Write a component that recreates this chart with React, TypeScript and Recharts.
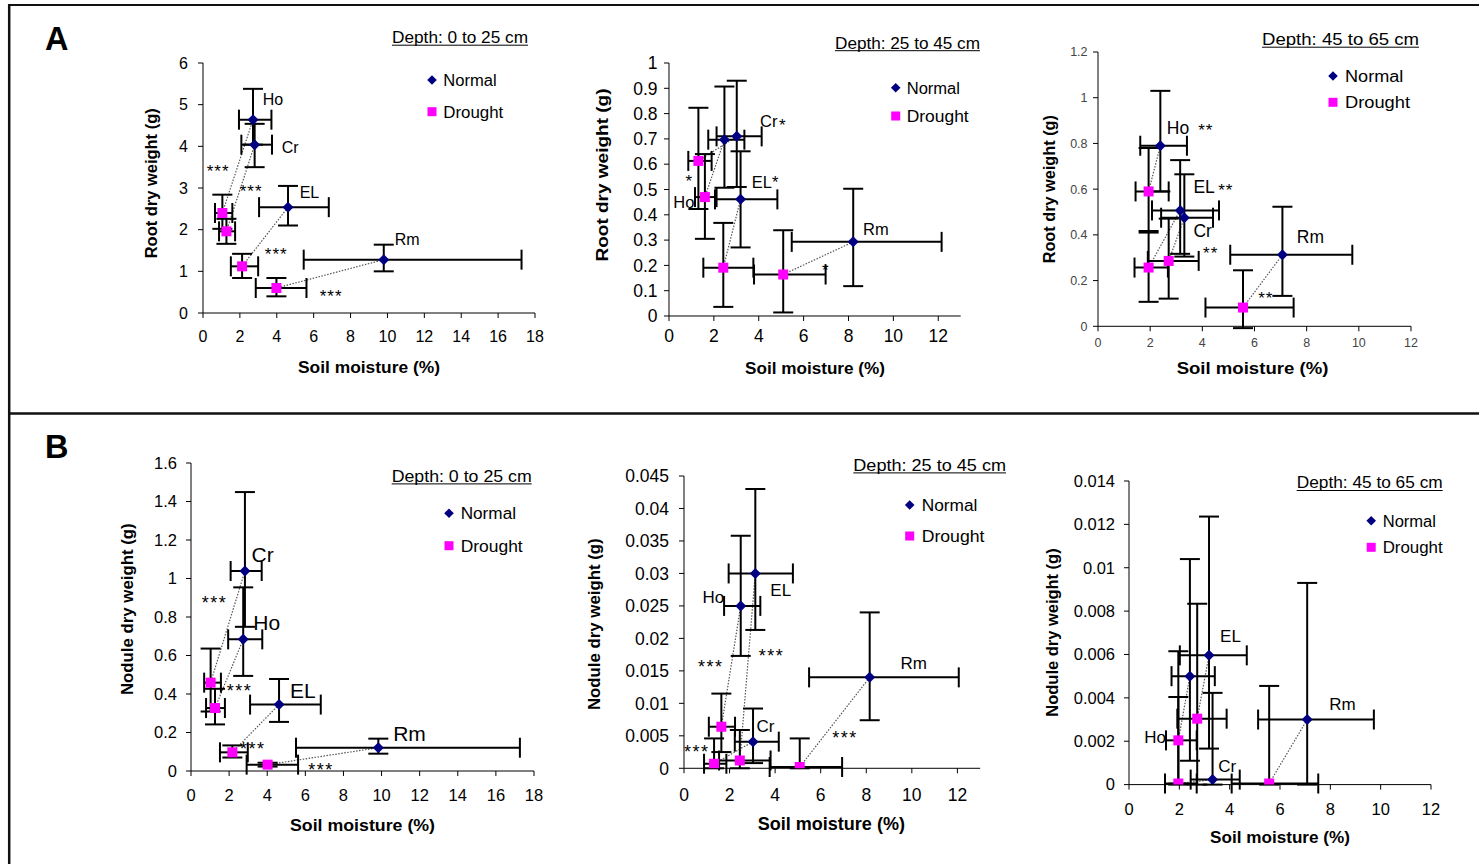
import React from "react";
import {
  ScatterChart,
  Scatter,
  XAxis,
  YAxis,
  ErrorBar,
  ReferenceLine,
  ReferenceDot,
} from "recharts";

const FONT = '"Liberation Sans", Arial, Helvetica, sans-serif';
const NAVY = "#000080";
const MAGENTA = "#FF00FF";

type Err = number | [number, number];
interface Pt {
  g: string;
  x: number;
  y: number;
  ex: Err;
  ey: Err;
}
interface Note {
  t: string;
  x: number;
  y: number;
}

// text
const seriesNames = ["Normal", "Drought"];
const depthLabels = ["Depth: 0 to 25 cm", "Depth: 25 to 45 cm", "Depth: 45 to 65 cm"];
const xTitle = "Soil moisture (%)";
const rootTitle = "Root dry weight (g)";
const noduleTitle = "Nodule dry weight (g)";

// ticks
const xTicks18 = [0, 2, 4, 6, 8, 10, 12, 14, 16, 18];
const xTicks12 = [0, 2, 4, 6, 8, 10, 12];
const rootTopYTicks = [0, 1, 2, 3, 4, 5, 6];
const rootMidYTicks = [0, 0.1, 0.2, 0.3, 0.4, 0.5, 0.6, 0.7, 0.8, 0.9, 1];
const rootDeepYTicks = [0, 0.2, 0.4, 0.6, 0.8, 1, 1.2];
const noduleTopYTicks = [0, 0.2, 0.4, 0.6, 0.8, 1, 1.2, 1.4, 1.6];
const noduleMidYTicks = [0, 0.005, 0.01, 0.015, 0.02, 0.025, 0.03, 0.035, 0.04, 0.045];
const noduleDeepYTicks = [0, 0.002, 0.004, 0.006, 0.008, 0.01, 0.012, 0.014];

// A: root dry weight, x = soil moisture, ex/ey = [minus, plus]
const rootTopNormal: Pt[] = [
  { g: "Ho", x: 2.71, y: 4.64, ex: [0.76, 1.0], ey: [0.6, 0.74] },
  { g: "Cr", x: 2.8, y: 4.04, ex: [0.72, 0.94], ey: [0.54, 0.5] },
  { g: "EL", x: 4.61, y: 2.54, ex: [1.57, 2.21], ey: [0.44, 0.51] },
  { g: "Rm", x: 9.8, y: 1.28, ex: [4.34, 7.47], ey: [0.28, 0.36] },
];
const rootTopDrought: Pt[] = [
  { g: "Ho", x: 1.05, y: 2.4, ex: [0.4, 0.54], ey: [0.38, 0.44] },
  { g: "Cr", x: 1.27, y: 1.96, ex: [0.4, 0.47], ey: [0.3, 0.3] },
  { g: "EL", x: 2.12, y: 1.12, ex: [0.61, 0.87], ey: [0.28, 0.3] },
  { g: "Rm", x: 3.98, y: 0.6, ex: [1.12, 1.63], ey: [0.2, 0.24] },
];
const rootMidNormal: Pt[] = [
  { g: "Ho", x: 2.47, y: 0.697, ex: [0.72, 0.89], ey: [0.19, 0.21] },
  { g: "Cr", x: 3.02, y: 0.71, ex: [0.9, 1.11], ey: [0.2, 0.22] },
  { g: "EL", x: 3.19, y: 0.461, ex: [1.14, 1.64], ey: [0.19, 0.19] },
  { g: "Rm", x: 8.21, y: 0.293, ex: [2.74, 3.94], ey: [0.175, 0.21] },
];
const rootMidDrought: Pt[] = [
  { g: "Ho", x: 1.6, y: 0.47, ex: [0.44, 0.52], ey: [0.165, 0.17] },
  { g: "Cr", x: 1.31, y: 0.613, ex: [0.45, 0.59], ey: [0.19, 0.21] },
  { g: "EL", x: 2.42, y: 0.191, ex: [0.89, 1.34], ey: [0.155, 0.177] },
  { g: "Rm", x: 5.09, y: 0.164, ex: [1.3, 1.89], ey: [0.15, 0.175] },
];
const rootDeepNormal: Pt[] = [
  { g: "Ho", x: 2.39, y: 0.79, ex: [0.77, 1.02], ey: [0.2, 0.24] },
  { g: "Cr", x: 3.31, y: 0.475, ex: [0.89, 1.1], ey: [0.17, 0.19] },
  { g: "EL", x: 3.15, y: 0.507, ex: [1.08, 1.49], ey: [0.19, 0.22] },
  { g: "Rm", x: 7.07, y: 0.313, ex: [2.0, 2.68], ey: [0.18, 0.21] },
];
const rootDeepDrought: Pt[] = [
  { g: "Ho", x: 1.94, y: 0.59, ex: [0.5, 0.77], ey: [0.18, 0.19] },
  { g: "Cr", x: 2.71, y: 0.286, ex: [0.8, 1.15], ey: [0.165, 0.185] },
  { g: "EL", x: 1.94, y: 0.257, ex: [0.54, 0.74], ey: [0.15, 0.16] },
  { g: "Rm", x: 5.56, y: 0.082, ex: [1.44, 1.94], ey: [0.09, 0.163] },
];

// B: nodule dry weight
const noduleTopNormal: Pt[] = [
  { g: "Ho", x: 2.74, y: 0.684, ex: [0.79, 1.0], ey: [0.19, 0.27] },
  { g: "Cr", x: 2.83, y: 1.039, ex: [0.75, 0.88], ey: [0.29, 0.41] },
  { g: "EL", x: 4.62, y: 0.345, ex: [1.52, 2.19], ey: [0.09, 0.133] },
  { g: "Rm", x: 9.83, y: 0.121, ex: [4.32, 7.43], ey: [0.031, 0.047] },
];
const noduleTopDrought: Pt[] = [
  { g: "Ho", x: 1.26, y: 0.327, ex: [0.47, 0.52], ey: [0.085, 0.1] },
  { g: "Cr", x: 1.03, y: 0.459, ex: [0.34, 0.54], ey: [0.15, 0.177] },
  { g: "EL", x: 2.17, y: 0.097, ex: [0.65, 0.81], ey: [0.027, 0.036] },
  { g: "Rm", x: 4.02, y: 0.033, ex: [1.1, 1.6], ey: [0.01, 0.01] },
];
const noduleMidNormal: Pt[] = [
  { g: "Ho", x: 2.49, y: 0.025, ex: [0.73, 0.86], ey: [0.0077, 0.0108] },
  { g: "Cr", x: 3.03, y: 0.0041, ex: [0.8, 1.13], ey: [0.0033, 0.0051] },
  { g: "EL", x: 3.13, y: 0.03, ex: [1.17, 1.65], ey: [0.0087, 0.013] },
  { g: "Rm", x: 8.15, y: 0.014, ex: [2.66, 3.91], ey: [0.0066, 0.01] },
];
const noduleMidDrought: Pt[] = [
  { g: "Ho", x: 1.64, y: 0.0064, ex: [0.55, 0.6], ey: [0.0039, 0.0051] },
  { g: "Cr", x: 1.32, y: 0.0007, ex: [0.44, 0.54], ey: [0.0007, 0.0039] },
  { g: "EL", x: 2.45, y: 0.0012, ex: [0.91, 1.35], ey: [0.0012, 0.0047] },
  { g: "Rm", x: 5.08, y: 0.0002, ex: [1.32, 1.86], ey: [0.0002, 0.0044] },
];
const noduleDeepNormal: Pt[] = [
  { g: "Ho", x: 2.42, y: 0.005, ex: [0.73, 0.99], ey: [0.0039, 0.0054] },
  { g: "Cr", x: 3.32, y: 0.00023, ex: [0.87, 1.08], ey: [0.00023, 0.004] },
  { g: "EL", x: 3.18, y: 0.00596, ex: [1.16, 1.5], ey: [0.0043, 0.0064] },
  { g: "Rm", x: 7.08, y: 0.003, ex: [1.95, 2.65], ey: [0.003, 0.0063] },
];
const noduleDeepDrought: Pt[] = [
  { g: "Ho", x: 1.96, y: 0.00204, ex: [0.49, 0.73], ey: [0.002, 0.002] },
  { g: "Cr", x: 1.96, y: 0.00005, ex: [0.53, 0.73], ey: [0.00005, 0.0061] },
  { g: "EL", x: 2.71, y: 0.00304, ex: [0.79, 1.17], ey: [0.00304, 0.0053] },
  { g: "Rm", x: 5.57, y: 0.00005, ex: [1.49, 1.95], ey: [0.00005, 0.0045] },
];

// labels and significance marks, in data units
const rootTopNotes: Note[] = [
  { t: "Ho", x: 3.24, y: 5.12 },
  { t: "Cr", x: 4.27, y: 3.99 },
  { t: "EL", x: 5.24, y: 2.91 },
  { t: "Rm", x: 10.4, y: 1.76 },
  { t: "***", x: 0.2, y: 3.51 },
  { t: "***", x: 1.99, y: 3.03 },
  { t: "***", x: 3.35, y: 1.52 },
  { t: "***", x: 6.33, y: 0.51 },
];
const rootMidNotes: Note[] = [
  { t: "Cr", x: 4.06, y: 0.771 },
  { t: "*", x: 4.9, y: 0.773 },
  { t: "EL*", x: 3.69, y: 0.53 },
  { t: "Ho", x: 0.19, y: 0.45 },
  { t: "*", x: 0.74, y: 0.55 },
  { t: "Rm", x: 8.65, y: 0.343 },
  { t: "*", x: 6.82, y: 0.2 },
];
const rootDeepNotes: Note[] = [
  { t: "Ho", x: 2.64, y: 0.869 },
  { t: "**", x: 3.84, y: 0.875 },
  { t: "EL", x: 3.66, y: 0.609 },
  { t: "**", x: 4.61, y: 0.614 },
  { t: "Cr", x: 3.66, y: 0.417 },
  { t: "**", x: 4.03, y: 0.341 },
  { t: "Rm", x: 7.62, y: 0.391 },
  { t: "**", x: 6.14, y: 0.14 },
];
const noduleTopNotes: Note[] = [
  { t: "Cr", x: 3.18, y: 1.126 },
  { t: "Ho", x: 3.27, y: 0.774 },
  { t: "EL", x: 5.19, y: 0.419 },
  { t: "Rm", x: 10.61, y: 0.194 },
  { t: "***", x: 0.56, y: 0.9 },
  { t: "***", x: 1.87, y: 0.44 },
  { t: "***", x: 2.57, y: 0.139 },
  { t: "***", x: 6.15, y: 0.03 },
];
const noduleMidNotes: Note[] = [
  { t: "Ho", x: 0.81, y: 0.0264 },
  { t: "EL", x: 3.79, y: 0.0274 },
  { t: "Rm", x: 9.5, y: 0.0163 },
  { t: "Cr", x: 3.18, y: 0.0065 },
  { t: "***", x: 0.61, y: 0.0163 },
  { t: "***", x: 3.28, y: 0.018 },
  { t: "***", x: 0, y: 0.0032 },
  { t: "***", x: 6.51, y: 0.0054 },
];
const noduleDeepNotes: Note[] = [
  { t: "EL", x: 3.62, y: 0.00688 },
  { t: "Rm", x: 7.96, y: 0.0037 },
  { t: "Ho", x: 0.61, y: 0.0022 },
  { t: "Cr", x: 3.55, y: 0.00084 },
];

interface PanelSpec {
  normal: Pt[];
  drought: Pt[];
  notes: Note[];
  xTicks: number[];
  yTicks: number[];
  xMax: number;
  yLabel: string;
  depth: string;
  // layout
  left: number;
  top: number;
  w: number;
  h: number;
  tickSize: number;
  tickFill: string;
  yGap: number;
  xGap: number;
  noteSize: number;
  starSize: number;
  starSpacing: number;
  depthPos: { x: number; base: number; len: number; fs: number };
  legend: { mx: number; my: [number, number]; tx: number; len: [number, number] };
  xTitlePos: { cx: number; base: number; len: number; fs: number };
  yTitlePos: { bx: number; cy: number; len: number; fs: number };
}

const panels: PanelSpec[] = [
  {
    normal: rootTopNormal, drought: rootTopDrought, notes: rootTopNotes,
    xTicks: xTicks18, yTicks: rootTopYTicks, xMax: 18, yLabel: rootTitle, depth: depthLabels[0],
    left: 203.3, top: 63.3, w: 332, h: 250,
    tickSize: 16, tickFill: "#000", yGap: 10, xGap: 13,
    noteSize: 16, starSize: 17, starSpacing: 1,
    depthPos: { x: 392, base: 43, len: 136, fs: 16 },
    legend: { mx: 432, my: [80, 111.7], tx: 443.3, len: [53.3, 60] },
    xTitlePos: { cx: 369, base: 372.7, len: 142, fs: 16.5 },
    yTitlePos: { bx: 156.5, cy: 183.3, len: 150, fs: 16.5 },
  },
  {
    normal: rootMidNormal, drought: rootMidDrought, notes: rootMidNotes,
    xTicks: xTicks12, yTicks: rootMidYTicks, xMax: 13, yLabel: rootTitle, depth: depthLabels[1],
    left: 669, top: 62.7, w: 291.7, h: 253,
    tickSize: 17.5, tickFill: "#000", yGap: 6.5, xGap: 8.5,
    noteSize: 16.5, starSize: 17, starSpacing: 1,
    depthPos: { x: 835, base: 48.5, len: 145, fs: 16 },
    legend: { mx: 895.7, my: [87.7, 116], tx: 906.7, len: [53.3, 62] },
    xTitlePos: { cx: 815, base: 374, len: 140, fs: 16.5 },
    yTitlePos: { bx: 608.3, cy: 175, len: 173, fs: 17 },
  },
  {
    normal: rootDeepNormal, drought: rootDeepDrought, notes: rootDeepNotes,
    xTicks: xTicks12, yTicks: rootDeepYTicks, xMax: 12, yLabel: rootTitle, depth: depthLabels[2],
    left: 1097.7, top: 51.7, w: 313, h: 274.3,
    tickSize: 12.5, tickFill: "#444", yGap: 5.5, xGap: 7,
    noteSize: 17.5, starSize: 17, starSpacing: 1,
    depthPos: { x: 1262, base: 45, len: 157, fs: 16.5 },
    legend: { mx: 1333, my: [76, 102.3], tx: 1345, len: [58.3, 65] },
    xTitlePos: { cx: 1252.5, base: 374.3, len: 151.7, fs: 17 },
    yTitlePos: { bx: 1055, cy: 189.2, len: 148.3, fs: 16.5 },
  },
  {
    normal: noduleTopNormal, drought: noduleTopDrought, notes: noduleTopNotes,
    xTicks: xTicks18, yTicks: noduleTopYTicks, xMax: 18, yLabel: noduleTitle, depth: depthLabels[0],
    left: 191, top: 462.7, w: 343, h: 308,
    tickSize: 16.5, tickFill: "#000", yGap: 9, xGap: 13.5,
    noteSize: 21, starSize: 18, starSpacing: 1.5,
    depthPos: { x: 391.7, base: 481.7, len: 140, fs: 17 },
    legend: { mx: 449, my: [513.3, 545.7], tx: 460.7, len: [55.3, 62] },
    xTitlePos: { cx: 362.5, base: 831, len: 145, fs: 17 },
    yTitlePos: { bx: 132.7, cy: 609.2, len: 171.7, fs: 17 },
  },
  {
    normal: noduleMidNormal, drought: noduleMidDrought, notes: noduleMidNotes,
    xTicks: xTicks12, yTicks: noduleMidYTicks, xMax: 13, yLabel: noduleTitle, depth: depthLabels[1],
    left: 684.3, top: 476, w: 296.2, h: 292.3,
    tickSize: 17.5, tickFill: "#000", yGap: 10, xGap: 15,
    noteSize: 17, starSize: 18, starSpacing: 1.5,
    depthPos: { x: 853.3, base: 470.7, len: 152.7, fs: 17 },
    legend: { mx: 909.7, my: [505, 536], tx: 921.7, len: [55.7, 62.7] },
    xTitlePos: { cx: 831.3, base: 830, len: 147.3, fs: 17.5 },
    yTitlePos: { bx: 600, cy: 624.2, len: 171.7, fs: 17 },
  },
  {
    normal: noduleDeepNormal, drought: noduleDeepDrought, notes: noduleDeepNotes,
    xTicks: xTicks12, yTicks: noduleDeepYTicks, xMax: 12, yLabel: noduleTitle, depth: depthLabels[2],
    left: 1129, top: 480.7, w: 302, h: 303.6,
    tickSize: 16.5, tickFill: "#000", yGap: 9, xGap: 14,
    noteSize: 17, starSize: 18, starSpacing: 1.5,
    depthPos: { x: 1296.7, base: 488.3, len: 146, fs: 16.5 },
    legend: { mx: 1371.2, my: [520.7, 547.3], tx: 1382.7, len: [53.3, 60] },
    xTitlePos: { cx: 1280, base: 843.3, len: 140, fs: 17 },
    yTitlePos: { bx: 1058, cy: 632.5, len: 168.3, fs: 17 },
  },
];

// chart frame around each plot area
const YW = 80;
const MT = 14;
const MR = 14;
const XH = 40;

const Diamond = (props: any) => {
  const { cx, cy } = props;
  const r = 5.5;
  return (
    <polygon
      points={`${cx},${cy - r} ${cx + r},${cy} ${cx},${cy + r} ${cx - r},${cy}`}
      fill={NAVY}
    />
  );
};

const Square = (props: any) => {
  const { cx, cy } = props;
  return <rect x={cx - 5} y={cy - 5} width={10} height={10} fill={MAGENTA} />;
};

const noteShape = (n: Note, p: PanelSpec) => (props: any) => {
  const star = /^\*+$/.test(n.t);
  const fs = star ? p.starSize : p.noteSize;
  return (
    <text
      x={props.cx}
      y={props.cy + fs * (star ? 0.6 : 0.36)}
      fontSize={fs}
      fontFamily={FONT}
      letterSpacing={star ? p.starSpacing : 0}
      fill="#000"
    >
      {n.t}
    </text>
  );
};

const Panel = ({ p }: { p: PanelSpec }) => {
  const tick = { fill: p.tickFill, fontSize: p.tickSize, fontFamily: FONT };
  const yMax = p.yTicks[p.yTicks.length - 1];
  return (
    <div style={{ position: "absolute", left: p.left - YW, top: p.top - MT }}>
      <ScatterChart
        width={p.w + YW + MR}
        height={p.h + MT + XH}
        margin={{ top: MT, right: MR, bottom: 0, left: 0 }}
      >
        <XAxis
          type="number"
          dataKey="x"
          domain={[0, p.xMax]}
          ticks={p.xTicks}
          interval={0}
          allowDataOverflow
          height={XH}
          tickSize={5}
          tickMargin={p.xGap}
          tick={tick}
          axisLine={{ stroke: "#000" }}
          tickLine={{ stroke: "#000" }}
        />
        <YAxis
          type="number"
          dataKey="y"
          domain={[0, yMax]}
          ticks={p.yTicks}
          interval={0}
          allowDataOverflow
          width={YW}
          tickSize={5}
          tickMargin={p.yGap}
          tick={tick}
          axisLine={{ stroke: "#000" }}
          tickLine={{ stroke: "#000" }}
        />
        {/* dotted link normal -> drought */}
        {p.normal.map((n, i) => (
          <ReferenceLine
            key={"link" + i}
            segment={[
              { x: n.x, y: n.y },
              { x: p.drought[i].x, y: p.drought[i].y },
            ]}
            stroke="#555"
            strokeDasharray="1.5 1.5"
            strokeWidth={1.2}
            ifOverflow="visible"
          />
        ))}
        <Scatter data={p.drought} shape={Square} isAnimationActive={false}>
          <ErrorBar dataKey="ex" direction="x" width={10} stroke="#000" strokeWidth={2} isAnimationActive={false} />
          <ErrorBar dataKey="ey" direction="y" width={10} stroke="#000" strokeWidth={2} isAnimationActive={false} />
        </Scatter>
        <Scatter data={p.normal} shape={Diamond} isAnimationActive={false}>
          <ErrorBar dataKey="ex" direction="x" width={10} stroke="#000" strokeWidth={2} isAnimationActive={false} />
          <ErrorBar dataKey="ey" direction="y" width={10} stroke="#000" strokeWidth={2} isAnimationActive={false} />
        </Scatter>
        {p.notes.map((n, i) => (
          <ReferenceDot
            key={"note" + i}
            x={n.x}
            y={n.y}
            r={0}
            ifOverflow="visible"
            shape={noteShape(n, p)}
          />
        ))}
      </ScatterChart>
    </div>
  );
};

const PanelText = ({ p }: { p: PanelSpec }) => {
  const d = p.depthPos;
  const lg = p.legend;
  const xt = p.xTitlePos;
  const yt = p.yTitlePos;
  const r = 4.8;
  return (
    <g fontFamily={FONT} fill="#000">
      <text x={d.x} y={d.base} fontSize={d.fs} textLength={d.len} lengthAdjust="spacingAndGlyphs">
        {p.depth}
      </text>
      <line x1={d.x} y1={d.base + 2.2} x2={d.x + d.len} y2={d.base + 2.2} stroke="#000" strokeWidth={1} />
      <polygon
        points={`${lg.mx},${lg.my[0] - r} ${lg.mx + r},${lg.my[0]} ${lg.mx},${lg.my[0] + r} ${lg.mx - r},${lg.my[0]}`}
        fill={NAVY}
      />
      <rect x={lg.mx - 4.5} y={lg.my[1] - 4.5} width={9} height={9} fill={MAGENTA} />
      {seriesNames.map((s, i) => (
        <text
          key={s}
          x={lg.tx}
          y={lg.my[i] + 5.8}
          fontSize={16}
          textLength={lg.len[i]}
          lengthAdjust="spacingAndGlyphs"
        >
          {s}
        </text>
      ))}
      <text
        x={xt.cx}
        y={xt.base}
        fontSize={xt.fs}
        fontWeight="bold"
        textAnchor="middle"
        textLength={xt.len}
        lengthAdjust="spacingAndGlyphs"
      >
        {xTitle}
      </text>
      <text
        transform={`translate(${yt.bx},${yt.cy}) rotate(-90)`}
        fontSize={yt.fs}
        fontWeight="bold"
        textAnchor="middle"
        textLength={yt.len}
        lengthAdjust="spacingAndGlyphs"
      >
        {p.yLabel}
      </text>
    </g>
  );
};

export default function App() {
  return (
    <div
      style={{
        position: "absolute",
        left: 0,
        top: 0,
        width: 1479,
        height: 864,
        background: "#fff",
        overflow: "hidden",
      }}
    >
      {panels.map((p, i) => (
        <Panel key={i} p={p} />
      ))}
      <svg
        width={1479}
        height={864}
        style={{ position: "absolute", left: 0, top: 0, pointerEvents: "none" }}
      >
        {/* figure frame */}
        <line x1={9.2} y1={5} x2={1479} y2={5} stroke="#111" strokeWidth={2} />
        <line x1={9.2} y1={4} x2={9.2} y2={864} stroke="#111" strokeWidth={2.5} />
        <line x1={9.2} y1={413.6} x2={1479} y2={413.6} stroke="#111" strokeWidth={2.5} />
        <text x={45} y={50} fontSize={32.5} fontWeight="bold" fontFamily={FONT}>
          A
        </text>
        <text x={45} y={457.7} fontSize={32.5} fontWeight="bold" fontFamily={FONT}>
          B
        </text>
        {panels.map((p, i) => (
          <PanelText key={i} p={p} />
        ))}
      </svg>
    </div>
  );
}
